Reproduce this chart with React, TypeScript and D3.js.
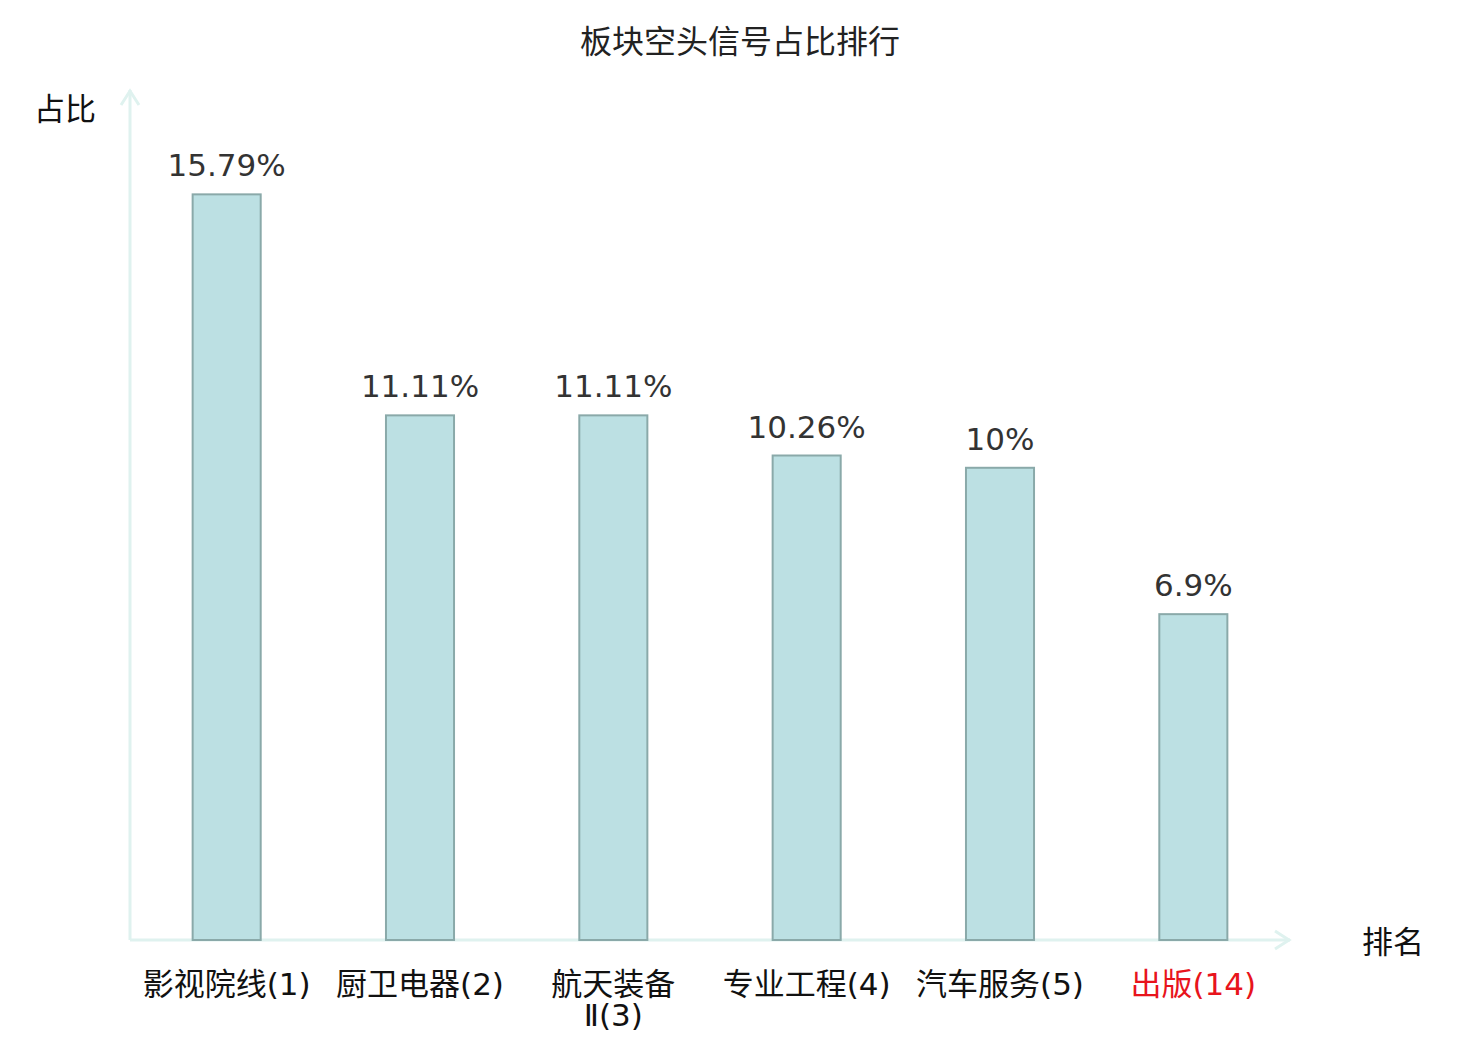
import { useRef, useEffect } from "react";
import * as d3 from "d3";

const categories = ["影视院线(1)", "厨卫电器(2)", "航天装备Ⅱ(3)", "专业工程(4)", "汽车服务(5)", "出版(14)"];
// manual line breaks for long labels
const labelLines = [["影视院线(1)"], ["厨卫电器(2)"], ["航天装备", "Ⅱ(3)"], ["专业工程(4)"], ["汽车服务(5)"], ["出版(14)"]];
const values = [15.79, 11.11, 11.11, 10.26, 10, 6.9];
const highlight = ["出版(14)"];

const W = 1480;
const H = 1040;
const MARGIN = { top: 90, right: 190, bottom: 100, left: 130 };
const FONT = "'DejaVu Sans', 'Noto Sans CJK SC', sans-serif";

export default function App() {
  const svgRef = useRef<SVGSVGElement>(null);

  useEffect(() => {
    if (!svgRef.current) return;
    const svg = d3.select(svgRef.current);
    svg.selectAll("*").remove();

    const innerW = W - MARGIN.left - MARGIN.right;
    const innerH = H - MARGIN.top - MARGIN.bottom;
    const g = svg.append("g").attr("transform", `translate(${MARGIN.left},${MARGIN.top})`);

    const x = d3.scaleBand<string>().domain(categories).range([0, innerW]).paddingInner(0.648).paddingOuter(0.324);
    const y = d3.scaleLinear().domain([0, 18]).range([innerH, 0]);

    // title
    svg.append("text")
      .attr("x", 740)
      .attr("y", 53)
      .attr("text-anchor", "middle")
      .attr("fill", "#222")
      .style("font-family", FONT)
      .style("font-size", "32px")
      .text("板块空头信号占比排行");

    const axisColor = "#dff2ef";

    // y axis with arrow
    g.append("line").attr("x1", 0).attr("x2", 0).attr("y1", innerH).attr("y2", 0)
      .attr("stroke", axisColor).attr("stroke-width", 3);
    g.append("path").attr("d", "M-9,15 L0,1 L9,15").attr("fill", "none")
      .attr("stroke", axisColor).attr("stroke-width", 3);

    // x axis with arrow
    g.append("line").attr("x1", 0).attr("x2", innerW).attr("y1", innerH).attr("y2", innerH)
      .attr("stroke", axisColor).attr("stroke-width", 3);
    g.append("path").attr("d", `M${innerW - 15},${innerH - 9} L${innerW - 1},${innerH} L${innerW - 15},${innerH + 9}`)
      .attr("fill", "none").attr("stroke", axisColor).attr("stroke-width", 3);

    // axis names
    svg.append("text").attr("x", 34).attr("y", 120)
      .attr("fill", "#111").style("font-family", FONT).style("font-size", "31px").text("占比");
    svg.append("text").attr("x", 1362).attr("y", 953)
      .attr("fill", "#111").style("font-family", FONT).style("font-size", "31px").text("排名");

    // bars
    g.selectAll("rect.bar")
      .data(values)
      .join("rect")
      .attr("class", "bar")
      .attr("x", (_, i) => x(categories[i])!)
      .attr("y", (d) => y(d))
      .attr("width", x.bandwidth())
      .attr("height", (d) => innerH - y(d))
      .attr("fill", "#bce0e3")
      .attr("stroke", "#8aa9a9")
      .attr("stroke-width", 2);

    // value labels
    g.selectAll("text.val")
      .data(values)
      .join("text")
      .attr("class", "val")
      .attr("x", (_, i) => x(categories[i])! + x.bandwidth() / 2)
      .attr("y", (d) => y(d) - 18)
      .attr("text-anchor", "middle")
      .attr("fill", "#333")
      .style("font-family", FONT)
      .style("font-size", "31px")
      .text((d) => `${d}%`);

    // category labels
    const lbl = g.selectAll("text.cat")
      .data(categories)
      .join("text")
      .attr("class", "cat")
      .attr("x", (d) => x(d)! + x.bandwidth() / 2)
      .attr("y", innerH + 55)
      .attr("text-anchor", "middle")
      .attr("fill", (d) => (highlight.includes(d) ? "#e8141c" : "#111"))
      .style("font-family", FONT)
      .style("font-size", "31px");
    lbl.each(function (d, i) {
      const t = d3.select(this);
      labelLines[i].forEach((line, j) => {
        t.append("tspan")
          .attr("x", x(d)! + x.bandwidth() / 2)
          .attr("dy", j === 0 ? 0 : 31)
          .text(line);
      });
    });
  }, []);

  return (
    <div>
      <svg
        ref={svgRef}
        width={W}
        height={H}
        style={{ position: "absolute", left: 0, top: 0, display: "block", background: "#fff" }}
      />
    </div>
  );
}
